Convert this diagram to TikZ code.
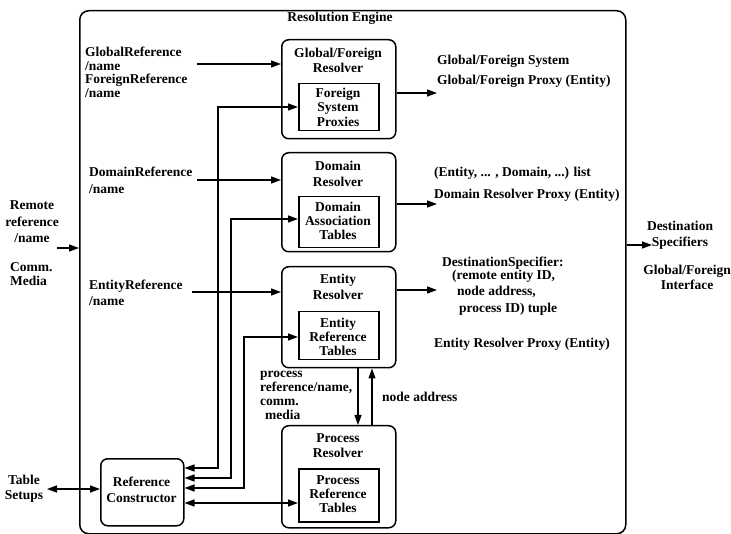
\documentclass[tikz,border=0pt]{standalone}
\usepackage{fontspec}
\setmainfont{Liberation Serif}
\usetikzlibrary{arrows.meta}
\begin{document}
\begin{tikzpicture}[x=1pt,y=-1pt,
  txt/.style={font=\bfseries\fontsize{13.5}{#1}\selectfont, inner sep=0pt},
  txt/.default=14.5,
  rbox/.style={draw, line width=1.5pt, rounded corners=7pt, anchor=north west, inner sep=0pt},
  ibox/.style={draw, line width=1.5pt, anchor=north west, inner sep=0pt},
  arr/.style={line width=1.3pt, -{Triangle[length=10pt,width=7pt]}},
  darr/.style={line width=1.3pt, {Triangle[length=10pt,width=7pt]}-{Triangle[length=10pt,width=7pt]}}]
\useasboundingbox (0,0) rectangle (731,534);

% outer engine box
\node[rbox, rounded corners=9pt, minimum width=546pt, minimum height=523pt] (eng) at (79,10) {};
\node[txt] (engt) at (340,18) {Resolution Engine};

% resolvers
\node[rbox, minimum width=114pt, minimum height=99pt] (gfr) at (281,39) {};
\node[ibox, minimum width=80pt, minimum height=47pt] (fsp) at (298,83) {};
\node[txt=15, align=center] at (338,60) {Global/Foreign\\Resolver};
\node[txt, align=center] at (338,107) {Foreign\\System\\Proxies};

\node[rbox, minimum width=114pt, minimum height=99pt] (dr) at (281,152) {};
\node[ibox, minimum width=80pt, minimum height=51pt] (dat) at (298,196) {};
\node[txt=16, align=center] at (338,173.5) {Domain\\Resolver};
\node[txt=14, align=center] at (338,221) {Domain\\Association\\Tables};

\node[rbox, minimum width=114pt, minimum height=101pt] (er) at (281,266) {};
\node[ibox, minimum width=80pt, minimum height=48pt] (ert) at (298,311) {};
\node[txt=16, align=center] at (338,287) {Entity\\Resolver};
\node[txt=14, align=center] at (338,337) {Entity\\Reference\\Tables};

\node[rbox, minimum width=114pt, minimum height=102pt] (pr) at (281,425) {};
\node[ibox, minimum width=80pt, minimum height=53pt] (prt) at (298,468) {};
\node[txt=15.5, align=center] at (338,445.5) {Process\\Resolver};
\node[txt=14, align=center] at (338,494) {Process\\Reference\\Tables};

\node[rbox, minimum width=83pt, minimum height=67pt] (rc) at (100,458) {};
\node[txt=16, align=center] at (141.5,490) {Reference\\Constructor};

% input labels
\node[txt=13.5, align=left, anchor=west] (gin) at (85,72.5) {GlobalReference\\/name\\ForeignReference\\/name};
\node[txt=17, align=left, anchor=west] (din) at (89,180.5) {DomainReference\\/name};
\node[txt=16, align=left, anchor=west] (ein) at (89,293) {EntityReference\\/name};
\coordinate (ga) at (197,64);
\coordinate (da) at (197,180);
\coordinate (ea) at (192,292);
\draw[arr] (ga) -- (ga -| gfr.west);
\draw[arr] (da) -- (da -| dr.west);
\draw[arr] (ea) -- (ea -| er.west);

% outside left
\node[txt=16.5, align=center] (rem) at (32,222) {Remote\\reference\\/name};
\node[txt=13.5, align=left, anchor=west] (comm) at (10,274) {Comm.\\Media};
\coordinate (ra) at (57,248);
\draw[arr] (ra) -- (ra -| eng.west);
\node[txt=14.5, align=center] (tab) at (24,489) {Table\\Setups};
\coordinate (ta) at (47,489);
\draw[darr] (ta) -- (ta -| rc.west);

% reference constructor links
\coordinate (v1) at (218,107);
\coordinate (v2) at (231,219);
\coordinate (v3) at (244,337);
\coordinate (h1) at (0,468);
\coordinate (h2) at (0,478);
\coordinate (h3) at (0,488);
\coordinate (h4) at (0,503);
\draw[darr] (rc.east |- h1) -| (v1) -- (fsp.west |- v1);
\draw[darr] (rc.east |- h2) -| (v2) -- (dat.west |- v2);
\draw[darr] (rc.east |- h3) -| (v3) -- (ert.west |- v3);
\draw[darr] (rc.east |- h4) -- (prt.west |- h4);

% entity <-> process
\coordinate (x1) at (358,0);
\coordinate (x2) at (372,0);
\draw[arr] (er.south -| x1) -- (pr.north -| x1);
\draw[arr] (pr.north -| x2) -- (er.south -| x2);
\node[txt=14, align=left, anchor=west] (prl) at (260,395.5) {process\\reference/name,\\comm.\\\hspace*{5pt}media};
\node[txt, anchor=west] (nal) at (382,397) {node address};

% outputs
\coordinate (o1) at (437,93);
\coordinate (o2) at (437,204);
\coordinate (o3) at (437,290);
\draw[arr] (gfr.east |- o1) -- (o1);
\draw[arr] (dr.east |- o2) -- (o2);
\draw[arr] (er.east |- o3) -- (o3);
\node[txt, anchor=west] at (437,61) {Global/Foreign System};
\node[txt, anchor=west] at (437,81) {Global/Foreign Proxy (Entity)};
\node[txt, anchor=west] at (434,173) {(Entity, ... , Domain, ...) list};
\node[txt, anchor=west] at (434,195) {Domain Resolver Proxy (Entity)};
\node[txt, anchor=west] at (442,263) {DestinationSpecifier:};
\node[txt, anchor=west] at (452,276) {(remote entity ID,};
\node[txt, anchor=west] at (457,292) {node address,};
\node[txt, anchor=west] at (459,309) {process ID) tuple};
\node[txt, anchor=west] at (434,344) {Entity Resolver Proxy (Entity)};

% outside right
\coordinate (dsa) at (652,245);
\draw[arr] (eng.east |- dsa) -- (dsa);
\node[txt=16, align=center] (dsp) at (680,235) {Destination\\Specifiers};
\node[txt=15, align=center] (gfi) at (687,277.5) {Global/Foreign\\Interface};
\end{tikzpicture}
\end{document}
